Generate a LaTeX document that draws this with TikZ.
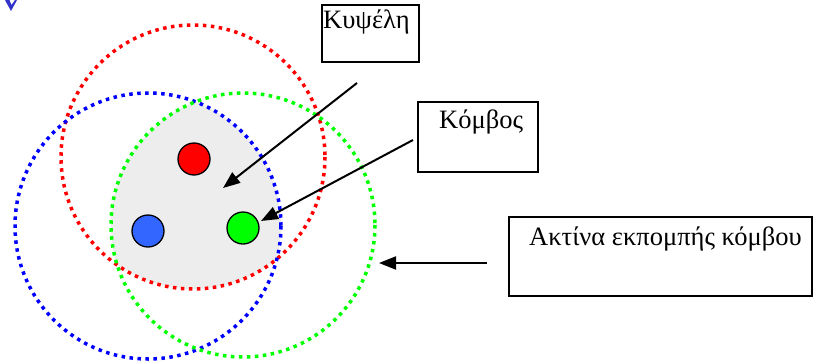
\documentclass[tikz,border=0pt]{standalone}
\usepackage{fontspec}
\setmainfont{Liberation Serif}
\usetikzlibrary{arrows.meta}
\definecolor{nodeblue}{HTML}{3366FF}
\definecolor{cellgray}{HTML}{EDEDED}
\definecolor{markblue}{HTML}{3333CC}
\tikzset{
  txrange/.style={line width=3.5pt, dash pattern=on 3.5pt off 4.5pt},
  sensor/.style={circle, draw=black, line width=1.3pt, minimum size=32pt, inner sep=0pt},
  labelbox/.style={draw=black, line width=1.4pt, rectangle, inner sep=0pt},
  labeltext/.style={font=\fontsize{26.5}{30}\selectfont, inner sep=0pt, anchor=base west},
  pointer/.style={line width=2pt, -{Triangle[length=17pt, width=13pt]}},
}
\begin{document}
\begin{tikzpicture}[x=1pt, y=-1pt]
\useasboundingbox (0,0) rectangle (814,362);
% cell (intersection of the three ranges)
\begin{scope}
  \clip (193,157) circle (132);
  \clip (148,226) circle (133);
  \clip (243,225) circle (132);
  \fill[cellgray] (0,0) rectangle (814,362);
\end{scope}
% transmission ranges
\draw[txrange, red] (193,157) circle (132);
\draw[txrange, blue] (148,226) circle (133);
\draw[txrange, green] (243,225) circle (132);
% sensor nodes
\node[sensor, fill=red] (nred) at (194,159) {};
\node[sensor, fill=nodeblue] (nblue) at (148,231) {};
\node[sensor, fill=green] (ngreen) at (243,228) {};
% label boxes
\node[labelbox, minimum width=97pt, minimum height=57pt] (cellbox) at (370.5,33.5) {};
\node[labeltext] (celltext) at (323,28) {Κυψέλη};
\node[labelbox, minimum width=120pt, minimum height=70pt] (nodebox) at (478,137) {};
\node[labeltext] (nodetext) at (439,128) {Κόμβος};
\node[labelbox, minimum width=303pt, minimum height=79pt] (rangebox) at (660.5,256.5) {};
\node[labeltext] (rangetext) at (529,245) {Ακτίνα εκπομπής κόμβου};
% pointers
\coordinate (p1s) at (357,83);
\coordinate (p1e) at (223,188);
\coordinate (p2s) at (413,140);
\coordinate (p2e) at (261,221);
\coordinate (p3s) at (487,263);
\coordinate (p3e) at (379,263);
\draw[pointer] (p1s) -- (p1e);
\draw[pointer] (p2s) -- (p2e);
\draw[pointer] (p3s) -- (p3e);
% partial blue mark at top-left corner
\fill[markblue] (5,0) -- (9.5,0) -- (11.5,5) -- (15,0) -- (17,0) -- (11,11) -- cycle;
\end{tikzpicture}
\end{document}
